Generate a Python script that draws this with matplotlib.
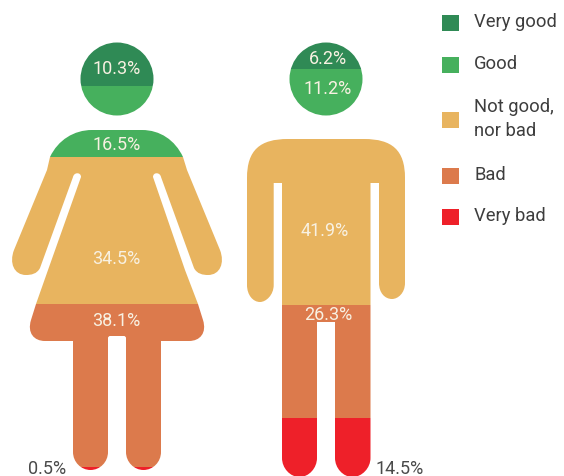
#!/usr/bin/env python3
import matplotlib
matplotlib.use('Agg')
import matplotlib.pyplot as plt
from matplotlib.patches import Rectangle
from matplotlib.path import Path

categories = ['Very good', 'Good', 'Not good,\nnor bad', 'Bad', 'Very bad']
colors = ['#2f8a55', '#46b05d', '#e8b45f', '#dc7a4c', '#ee2029']

women_values = [10.3, 16.5, 34.5, 38.1, 0.5]
men_values = [6.2, 11.2, 41.9, 26.3, 14.5]
# the man's bands are not quite drawn to his labels, so these are read off the bands
men_drawn = [6.2, 11.2, 43.2, 26.0, 13.4]

plt.rcParams['font.family'] = ['Roboto', 'DejaVu Sans']
W, H = 564, 476
M, L, C = Path.MOVETO, Path.LINETO, Path.CURVE4


def outline(start, segments):
    verts, codes = [start], [M]
    for seg in segments:
        if len(seg) == 2:
            verts.append(seg)
            codes.append(L)
        else:
            verts += [seg[:2], seg[2:4], seg[4:]]
            codes += [C, C, C]
    verts.append(start)
    codes.append(Path.CLOSEPOLY)
    return Path(verts, codes)


woman_body = outline((92, 130), [
    (142, 130), (160, 130, 175, 140, 183, 157), (187, 170), (220, 250),
    (225, 263, 220, 275, 208, 275), (203, 275, 197, 274, 194, 268), (161, 177),
    (160, 172, 153, 172, 153, 177), (185, 270), (198, 304), (203, 320),
    (207, 333, 200, 341, 189, 341), (161, 341), (161, 452),
    (161, 462, 153, 470, 143.5, 470), (134, 470, 126, 462, 126, 452), (126, 338),
    (126, 337, 125, 336, 124, 336), (110, 336), (109, 336, 108, 337, 108, 338),
    (108, 452), (108, 462, 100, 470, 90.5, 470), (81, 470, 73, 462, 73, 452),
    (73, 341), (45, 341), (34, 341, 27, 333, 31, 320), (36, 304), (48, 270),
    (81, 177), (81, 172, 74, 172, 73, 177), (40, 268),
    (37, 274, 31, 275, 26, 275), (14, 275, 9, 263, 14, 250), (47, 170), (50, 157),
    (58, 140, 74, 130, 92, 130),
])
man_body = outline((288, 139), [
    (364, 139), (392, 139, 405, 150, 405, 178), (405, 283),
    (405, 293, 398, 299, 392, 299), (385, 299, 379, 293, 379, 283), (379, 183),
    (370.5, 183), (370.5, 458), (370.5, 468, 362, 477, 352.5, 477),
    (343, 477, 335, 468, 335, 458), (335, 322), (317, 322), (317, 458),
    (317, 468, 309, 477, 299.5, 477), (290, 477, 282, 468, 282, 458), (282, 183),
    (273.7, 183), (273.7, 285), (273.7, 295, 266, 302, 260, 302),
    (253, 302, 247, 295, 247, 285), (247, 178), (247, 150, 260, 139, 288, 139),
])


def head(cx, cy, r):
    unit = Path.unit_circle()
    return Path(unit.vertices * r + (cx, cy), unit.codes)


woman_shape = Path.make_compound_path(head(117, 79, 36.5), woman_body)
man_shape = Path.make_compound_path(head(326, 79, 36.5), man_body)

fig = plt.figure(figsize=(W / 100, H / 100), dpi=100, facecolor='white')
base = fig.add_axes([0, 0, 1, 1])
base.set_xlim(0, W)
base.set_ylim(H, 0)
base.axis('off')


def stacked_figure(values, shape, x0, x1, y0, y1):
    # one stacked bar per person, cut to the silhouette
    ax = fig.add_axes([x0 / W, 1 - y1 / H, (x1 - x0) / W, (y1 - y0) / H])
    ax.set_xlim(0, 1)
    ax.set_ylim(100, 0)
    ax.axis('off')
    bottom = 0
    for value, color in zip(values, colors):
        bar = ax.bar(0.5, value, width=1, bottom=bottom, color=color, linewidth=0)[0]
        bar.set_clip_path(shape, base.transData)
        bottom += value


stacked_figure(women_values, woman_shape, 0, 235, 42, 470)
stacked_figure(men_drawn, man_shape, 235, 420, 42, 476)

overlay = fig.add_axes([0, 0, 1, 1], zorder=5)
overlay.set_xlim(0, W)
overlay.set_ylim(H, 0)
overlay.axis('off')

light = dict(ha='center', va='center', fontsize=13, color='#f8f1e2')
dark = dict(ha='center', va='center', fontsize=13, color='#4a4a4a')

woman_spots = [(117, 69.5), (117, 145.5), (116, 258.5), (116, 320.5), (47, 468.5)]
man_spots = [(328, 58.5), (328, 89.5), (325, 230.5), (328, 315.5), (399.5, 468.5)]
for values, spots in ((women_values, woman_spots), (men_values, man_spots)):
    for i, (value, (x, y)) in enumerate(zip(values, spots)):
        # only the very bad share is written outside the body
        style = dark if i == 4 else light
        overlay.text(x, y, f'{value}%', **style)

legend_tops = [15, 57, 112, 168, 209]
for name, color, top in zip(categories, colors, legend_tops):
    overlay.add_patch(Rectangle((442, top), 17, 16, facecolor=color, linewidth=0))
    overlay.text(474, top + 7, name, ha='left', va='center', fontsize=13.2,
                 color='#3d3d3d', linespacing=1.4)

fig.savefig('out.png', dpi=100)
